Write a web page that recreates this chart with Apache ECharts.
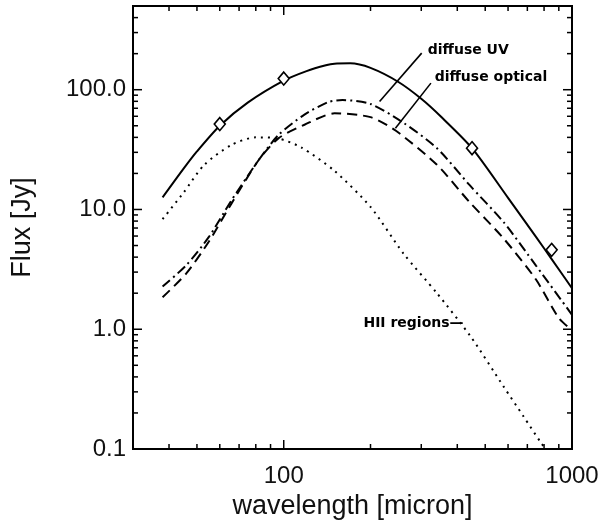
<!DOCTYPE html>
<html>
<head>
<meta charset="utf-8">
<script src="https://cdn.jsdelivr.net/npm/echarts@6/dist/echarts.min.js"></script>
<style>
  html, body { margin: 0; padding: 0; background: #fff; }
  #chart { width: 616px; height: 526px; }
</style>
</head>
<body>
<div id="chart"></div>
<script>
// axis ranges
var X_MIN = 30, X_MAX = 1000
var Y_MIN = 0.1, Y_MAX = 500

// total model (solid)
var totalX = [38, 45, 50, 60, 75, 100, 120, 140, 150, 170, 200, 250, 300, 350, 450, 600, 750, 850, 1000]
var totalY = [12.6, 22, 30.5, 50, 78, 119, 143, 160, 165, 166, 152, 116, 84, 60, 32.5, 12.5, 5.9, 3.85, 2.2]

// diffuse UV (dash-dot)
var uvX = [38, 46, 55, 66, 82, 96, 118, 143, 160, 200, 260, 340, 440, 580, 750, 1000]
var uvY = [2.27, 3.44, 5.9, 12, 26, 42, 62, 79, 82, 76, 53, 32.5, 16.1, 7.8, 3.4, 1.32]

// diffuse optical (dashed)
var optX = [38, 46, 55, 66, 82, 96, 118, 150, 200, 245, 340, 440, 580, 750, 900, 1000]
var optY = [1.85, 2.94, 5.4, 11.3, 26, 39.4, 51, 63.5, 59, 45.4, 23.6, 11.6, 5.7, 2.6, 1.24, 0.98]

// HII regions (dotted)
var hiiX = [38, 45, 53, 66, 80, 95, 115, 150, 200, 260, 340, 445, 580, 680, 780, 800]
var hiiY = [8.3, 13.9, 23.6, 34.7, 40, 39.3, 33, 21, 10.5, 4.3, 2.0, 0.87, 0.33, 0.186, 0.113, 0.104]

// measured fluxes (diamonds)
var obsX = [60, 100, 450, 850]
var obsY = [51.7, 124, 32.5, 4.6]

// tick values
var xMajor = [100, 1000]
var xMinor = [40, 50, 60, 70, 80, 90, 200, 300, 400, 500, 600, 700, 800, 900]
var yMajor = [0.1, 1, 10, 100]
var yMinor = [0.2, 0.3, 0.4, 0.5, 0.6, 0.7, 0.8, 0.9, 2, 3, 4, 5, 6, 7, 8, 9,
  20, 30, 40, 50, 60, 70, 80, 90, 200, 300, 400]

// annotations: [x, y, text]
var notes = [
  [316, 215, 'diffuse UV'],
  [334, 126, 'diffuse optical'],
  [189, 1.13, 'HII regions\u2014']
]
var uvLeader = [[301, 202], [215, 79.6]]
var optLeader = [[324, 113.5], [244, 47.7]]

function zip (xs, ys) {
  return xs.map(function (x, i) { return [x, ys[i]] })
}

function isDecade (v) {
  var l = Math.log10(v)
  return Math.abs(l - Math.round(l)) < 1e-6
}

function tickRender (axis) {
  return function (params, api) {
    var major = api.value(2) === 1
    var len = major ? 9 : 5
    var style = { stroke: '#000', lineWidth: 1.5 }
    var a, b
    if (axis === 'x') {
      a = api.coord([api.value(0), Y_MIN])
      b = api.coord([api.value(0), Y_MAX])
      return {
        type: 'group',
        children: [
          { type: 'line', shape: { x1: a[0], y1: a[1], x2: a[0], y2: a[1] - len }, style: style },
          { type: 'line', shape: { x1: b[0], y1: b[1], x2: b[0], y2: b[1] + len }, style: style }
        ]
      }
    }
    a = api.coord([X_MIN, api.value(1)])
    b = api.coord([X_MAX, api.value(1)])
    return {
      type: 'group',
      children: [
        { type: 'line', shape: { x1: a[0], y1: a[1], x2: a[0] + len, y2: a[1] }, style: style },
        { type: 'line', shape: { x1: b[0], y1: b[1], x2: b[0] - len, y2: b[1] }, style: style }
      ]
    }
  }
}

var xTickData = xMajor.map(function (v) { return [v, Y_MIN, 1] })
  .concat(xMinor.map(function (v) { return [v, Y_MIN, 0] }))
var yTickData = yMajor.map(function (v) { return [X_MIN, v, 1] })
  .concat(yMinor.map(function (v) { return [X_MIN, v, 0] }))

var chart = echarts.init(document.getElementById('chart'))

var lineBase = {
  type: 'line',
  showSymbol: false,
  smooth: 0.25,
  silent: true,
  clip: true
}

chart.setOption({
  backgroundColor: '#fff',
  animation: false,
  grid: {
    left: 133,
    right: 44,
    top: 6,
    bottom: 77,
    show: true,
    borderColor: '#000',
    borderWidth: 2,
    backgroundColor: 'transparent'
  },
  xAxis: {
    type: 'log',
    logBase: 10,
    min: X_MIN,
    max: X_MAX,
    name: 'wavelength [micron]',
    nameLocation: 'middle',
    nameGap: 34,
    nameTextStyle: { fontFamily: 'Liberation Sans', fontSize: 27, color: '#111' },
    axisLine: { show: false },
    axisTick: { show: false },
    splitLine: { show: false },
    axisLabel: {
      margin: 15,
      fontFamily: 'Liberation Sans',
      fontSize: 24,
      color: '#111',
      formatter: function (v) { return isDecade(v) ? String(Math.round(v)) : '' }
    }
  },
  yAxis: {
    type: 'log',
    logBase: 10,
    min: Y_MIN,
    max: Y_MAX,
    name: 'Flux [Jy]',
    nameLocation: 'middle',
    nameGap: 97,
    nameTextStyle: { fontFamily: 'Liberation Sans', fontSize: 27, color: '#111' },
    axisLine: { show: false },
    axisTick: { show: false },
    splitLine: { show: false },
    axisLabel: {
      margin: 7,
      fontFamily: 'Liberation Sans',
      fontSize: 24,
      color: '#111',
      formatter: function (v) { return isDecade(v) ? v.toFixed(1) : '' }
    }
  },
  series: [
    Object.assign({}, lineBase, {
      data: zip(totalX, totalY),
      lineStyle: { color: '#000', width: 2 }
    }),
    Object.assign({}, lineBase, {
      data: zip(uvX, uvY),
      lineStyle: { color: '#000', width: 2, type: [10, 4, 2, 4] }
    }),
    Object.assign({}, lineBase, {
      data: zip(optX, optY),
      lineStyle: { color: '#000', width: 2, type: [10, 6] }
    }),
    Object.assign({}, lineBase, {
      data: zip(hiiX, hiiY),
      lineStyle: { color: '#000', width: 2, type: [2, 5] }
    }),
    {
      type: 'scatter',
      data: zip(obsX, obsY),
      symbol: 'diamond',
      symbolSize: [11, 13],
      itemStyle: { color: '#fff', borderColor: '#000', borderWidth: 1.6, opacity: 1 },
      silent: true,
      z: 5
    },
    Object.assign({}, lineBase, {
      smooth: false,
      data: uvLeader,
      lineStyle: { color: '#000', width: 1.6 }
    }),
    Object.assign({}, lineBase, {
      smooth: false,
      data: optLeader,
      lineStyle: { color: '#000', width: 1.6 }
    }),
    {
      type: 'scatter',
      symbolSize: 0,
      silent: true,
      itemStyle: { opacity: 1 },
      data: notes.map(function (n) { return { value: [n[0], n[1]], name: n[2] } }),
      label: {
        show: true,
        position: 'right',
        distance: 0,
        formatter: '{b}',
        fontFamily: 'DejaVu Sans',
        fontWeight: 'bold',
        fontSize: 14,
        color: '#000',
        opacity: 1
      }
    },
    {
      type: 'custom',
      renderItem: tickRender('x'),
      data: xTickData,
      silent: true,
      clip: false,
      z: 10
    },
    {
      type: 'custom',
      renderItem: tickRender('y'),
      data: yTickData,
      silent: true,
      clip: false,
      z: 10
    }
  ]
})
</script>
</body>
</html>
